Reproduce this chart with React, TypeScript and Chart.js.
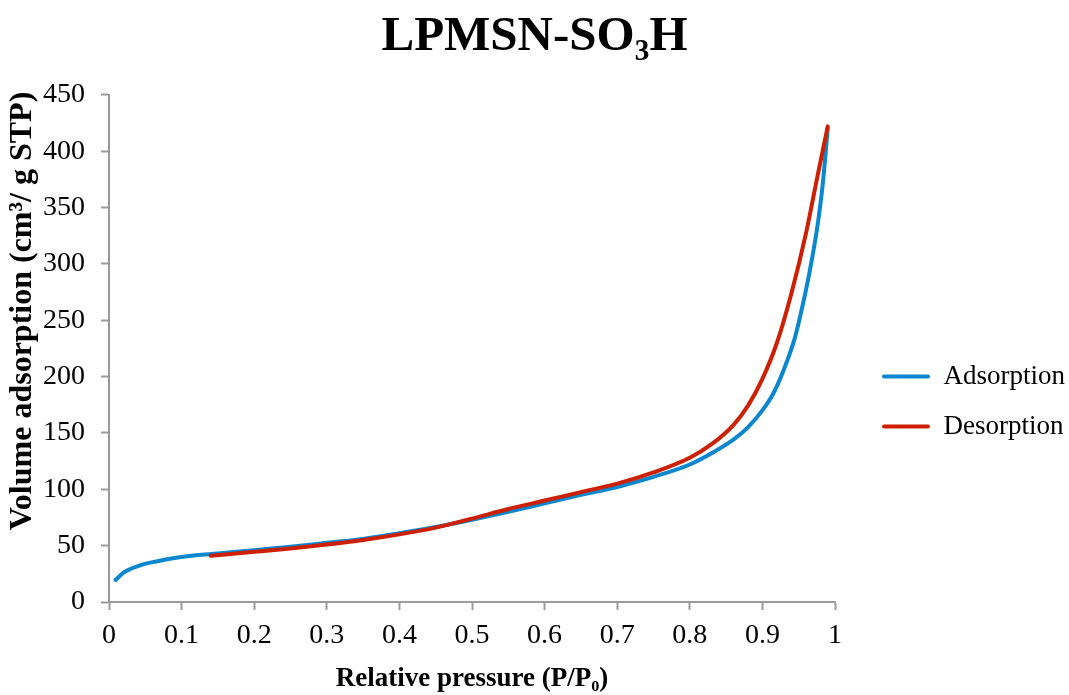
import React, { useEffect, useRef } from "react";
import { Chart, registerables } from "chart.js";

Chart.register(...registerables);

const FONT = "'Liberation Serif', 'Times New Roman', serif";

const TITLE = "LPMSN-SO₃H";
const X_TITLE = "Relative pressure (P/P₀)";
const Y_TITLE = "Volume adsorption (cm³/ g STP)";
const SERIES_LABELS = ["Adsorption", "Desorption"];

const adsorptionP = [0.009, 0.02, 0.03, 0.045, 0.065, 0.09, 0.12, 0.15, 0.2, 0.25, 0.3, 0.35, 0.4, 0.45, 0.5, 0.55, 0.6, 0.65, 0.7, 0.75, 0.8, 0.83, 0.86, 0.88, 0.9, 0.915, 0.93, 0.945, 0.955, 0.965, 0.975, 0.983, 0.99];
const adsorptionV = [19.5, 26, 29.5, 33, 36, 39, 41.5, 43, 46, 49, 52.5, 56, 61, 66.5, 73, 80, 87.5, 95, 102, 111, 122, 132, 144, 155, 170, 185, 207, 235, 262, 293, 330, 370, 420];

const desorptionP = [0.14, 0.2, 0.25, 0.3, 0.35, 0.4, 0.45, 0.5, 0.55, 0.6, 0.65, 0.7, 0.75, 0.8, 0.83, 0.86, 0.88, 0.9, 0.92, 0.94, 0.96, 0.975, 0.99];
const desorptionV = [41, 44.5, 47.5, 51, 55, 60, 66, 74, 82.5, 90, 97.5, 105, 115, 128, 140, 157, 174, 198, 230, 274, 327, 375, 422];

const X_MIN = 0;
const X_MAX = 1;
const X_STEP = 0.1;
const Y_MIN = 0;
const Y_MAX = 450;
const Y_STEP = 50;

const BLUE = "#0a87cf";
const RED = "#cc2000";
const AXIS_GREY = "#9a9a9a";

const toPoints = (xs: number[], ys: number[]) => xs.map((x, i) => ({ x, y: ys[i] }));

const layoutTweaks = {
  id: "layoutTweaks",
  beforeLayout(chart: any) {
    const lg = chart.legend;
    if (lg && !lg.__patched) {
      const orig = lg.fit.bind(lg);
      lg.fit = function () {
        orig();
        this.width = 234;
      };
      lg.__patched = true;
    }
  },
  afterLayout(chart: any) {
    const lg = chart.legend;
    if (lg) {
      lg.left += 24;
      lg.right += 24;
      lg.top += 54;
      lg.bottom += 54;
    }
  },
  afterDraw(chart: any) {
    const ctx = chart.ctx;
    ctx.save();
    ctx.translate(23, 311);
    ctx.rotate(-Math.PI / 2);
    ctx.textAlign = "center";
    ctx.textBaseline = "middle";
    ctx.fillStyle = "#000";
    ctx.font = `bold 32px ${FONT}`;
    ctx.fillText(Y_TITLE, 0, 0);
    ctx.restore();
  },
};

export default function App() {
  const ref = useRef<HTMLCanvasElement | null>(null);

  useEffect(() => {
    if (!ref.current) return;
    const chart = new Chart(ref.current, {
      type: "line",
      data: {
        datasets: [
          {
            label: SERIES_LABELS[0],
            data: toPoints(adsorptionP, adsorptionV),
            borderColor: BLUE,
            backgroundColor: BLUE,
            borderWidth: 4,
            pointRadius: 0,
            cubicInterpolationMode: "monotone",
            borderCapStyle: "round",
            borderJoinStyle: "round",
            fill: false,
            order: 1,
          },
          {
            label: SERIES_LABELS[1],
            data: toPoints(desorptionP, desorptionV),
            borderColor: RED,
            backgroundColor: RED,
            borderWidth: 4,
            pointRadius: 0,
            cubicInterpolationMode: "monotone",
            borderCapStyle: "round",
            borderJoinStyle: "round",
            fill: false,
            order: 0,
          },
        ],
      },
      options: {
        animation: false,
        responsive: false,
        devicePixelRatio: 1,
        events: [],
        layout: { padding: 0 },
        plugins: {
          tooltip: { enabled: false },
          title: {
            display: true,
            text: TITLE,
            color: "#000",
            font: { family: FONT, size: 49, weight: "bold" },
            padding: { top: 8, bottom: 28 },
          },
          legend: {
            display: true,
            position: "right",
            align: "center",
            labels: {
              color: "#000",
              font: { family: FONT, size: 27 },
              boxWidth: 48,
              boxHeight: 4,
              padding: 23,
              useBorderRadius: true,
              borderRadius: 2,
              sort: (a: any, b: any) => a.datasetIndex - b.datasetIndex,
              generateLabels: (chart: any) =>
                Chart.defaults.plugins.legend.labels
                  .generateLabels(chart)
                  .map((l: any) => ({ ...l, fillStyle: l.strokeStyle, lineWidth: 0 })),
            },
          },
        },
        scales: {
          x: {
            type: "linear",
            min: X_MIN,
            max: X_MAX,
            afterFit: (scale: any) => {
              scale.height = 93;
            },
            ticks: {
              stepSize: X_STEP,
              color: "#000",
              font: { family: FONT, size: 28 },
              padding: 9,
              maxRotation: 0,
              callback: (v: any) => {
                const n = Number(v);
                if (n === 0) return "0";
                if (n === 1) return "1";
                return n.toFixed(1);
              },
            },
            grid: {
              drawOnChartArea: false,
              drawTicks: true,
              tickLength: 8,
              tickWidth: 2,
              tickColor: AXIS_GREY,
              color: AXIS_GREY,
            },
            border: { display: true, color: AXIS_GREY, width: 2 },
            title: {
              display: true,
              text: X_TITLE,
              color: "#000",
              font: { family: FONT, size: 27, weight: "bold" },
              padding: { top: 0, bottom: 0 },
            },
          },
          y: {
            type: "linear",
            min: Y_MIN,
            max: Y_MAX,
            afterFit: (scale: any) => {
              scale.width = 109;
            },
            ticks: {
              stepSize: Y_STEP,
              color: "#000",
              font: { family: FONT, size: 28 },
              padding: 16,
            },
            grid: {
              drawOnChartArea: false,
              drawTicks: true,
              tickLength: 8,
              tickWidth: 2,
              tickColor: AXIS_GREY,
              color: AXIS_GREY,
            },
            border: { display: true, color: AXIS_GREY, width: 2 },
            title: { display: false },
          },
        },
      },
      plugins: [layoutTweaks],
    } as any);
    return () => chart.destroy();
  }, []);

  return (
    <div style={{ position: "absolute", left: 0, top: 0, width: 1069, height: 695, background: "#fff" }}>
      <canvas ref={ref} width={1069} height={695} style={{ display: "block" }} />
    </div>
  );
}
